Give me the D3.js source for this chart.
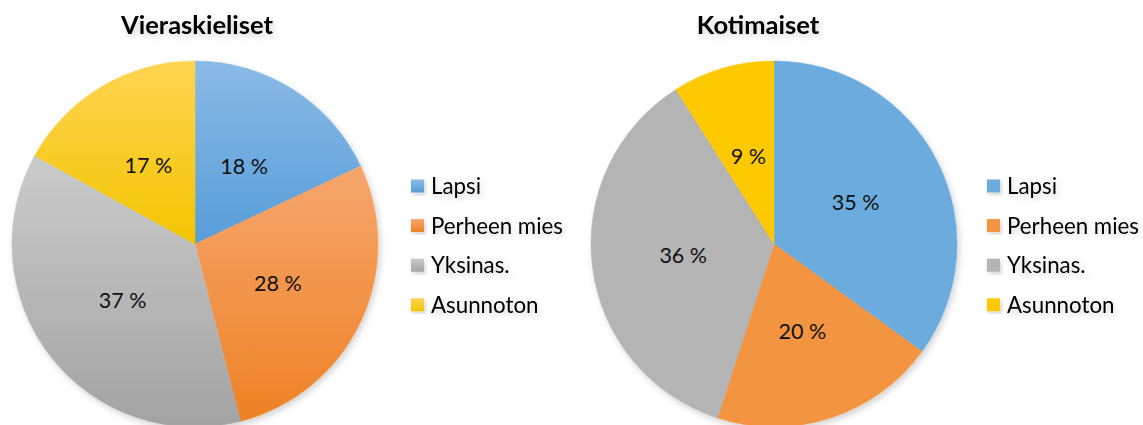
<!DOCTYPE html>
<html>
<head>
<meta charset="utf-8">
<script src="https://cdn.jsdelivr.net/npm/d3@7"></script>
<style>
  html, body { margin: 0; padding: 0; background: #fff; }
  svg { display: block; font-family: Lato, 'Open Sans', sans-serif; }
</style>
</head>
<body>
<div class="viz"></div>
<script>
// categories shared by both pies
const categories = ['Lapsi', 'Perheen mies', 'Yksinas.', 'Asunnoton'];
// percentages
const vieraskieliset = [18, 28, 37, 17];
const kotimaiset = [35, 20, 36, 9];

// flat colours (right pie) and gradient stops (left pie)
const flatColors = ['#6cabdd', '#f29441', '#b4b4b4', '#ffc905'];
const gradTop = ['#8bbae6', '#f6a66d', '#cbcbcb', '#ffd452'];
const gradBottom = ['#579dd8', '#ee8225', '#a3a3a3', '#f2c500'];

const width = 1143;
const height = 425;
const radius = 183;

const svg = d3.select('.viz')
  .append('svg')
  .attr('width', width)
  .attr('height', height);

const defs = svg.append('defs');

// soft shadow used on text and pies
const shadow = defs.append('filter')
  .attr('id', 'soft-shadow')
  .attr('x', '-20%').attr('y', '-20%')
  .attr('width', '140%').attr('height', '140%');
shadow.append('feDropShadow')
  .attr('dx', 2).attr('dy', 3)
  .attr('stdDeviation', 3)
  .attr('flood-color', '#000')
  .attr('flood-opacity', 0.18);

// one vertical gradient per category, spread over each slice's box
categories.forEach((c, i) => {
  const g = defs.append('linearGradient')
    .attr('id', `grad-${i}`)
    .attr('x1', 0).attr('x2', 0)
    .attr('y1', 0).attr('y2', 1);
  g.append('stop').attr('offset', 0).attr('stop-color', gradTop[i]);
  g.append('stop').attr('offset', 1).attr('stop-color', gradBottom[i]);
});

const pie = d3.pie().sort(null);
const arc = d3.arc().innerRadius(0).outerRadius(radius);

// draws one pie with title and legend
function drawPie({ values, title, cx, cy, titleX, legendX, fill }) {
  const group = svg.append('g');

  group.append('text')
    .attr('x', titleX)
    .attr('y', 34)
    .attr('text-anchor', 'middle')
    .attr('font-weight', 'bold')
    .attr('font-size', '25.5px')
    .attr('fill', '#000')
    .attr('filter', 'url(#soft-shadow)')
    .text(title);

  const pieGroup = group.append('g')
    .attr('transform', `translate(${cx} ${cy})`);

  const slices = pie(values);

  pieGroup.append('g')
    .attr('filter', 'url(#soft-shadow)')
    .selectAll('path')
    .data(slices)
    .enter()
    .append('path')
    .attr('d', arc)
    .attr('fill', (d, i) => fill(i))
    .attr('stroke', (d, i) => fill(i))
    .attr('stroke-width', 0.5);

  pieGroup.selectAll('text.label')
    .data(slices)
    .enter()
    .append('text')
    .attr('class', 'label')
    .attr('transform', d => `translate(${arc.centroid(d)})`)
    .attr('text-anchor', 'middle')
    .attr('dy', '0.36em')
    .attr('font-size', '21.5px')
    .attr('fill', '#111')
    .text(d => `${d.data} %`);

  const legend = group.append('g')
    .attr('transform', `translate(${legendX} 0)`);

  const rows = legend.selectAll('g.row')
    .data(categories)
    .enter()
    .append('g')
    .attr('class', 'row')
    .attr('transform', (d, i) => `translate(0 ${186 + i * 39.6})`);

  rows.append('rect')
    .attr('x', 0)
    .attr('y', -6.5)
    .attr('width', 13)
    .attr('height', 13)
    .attr('fill', (d, i) => fill(i))
    .attr('filter', 'url(#soft-shadow)');

  rows.append('text')
    .attr('x', 20)
    .attr('dy', '0.36em')
    .attr('font-size', '22.3px')
    .attr('fill', '#000')
    .attr('filter', 'url(#soft-shadow)')
    .text(d => d);
}

drawPie({
  values: vieraskieliset,
  title: 'Vieraskieliset',
  cx: 195,
  cy: 244,
  titleX: 197,
  legendX: 411,
  fill: i => `url(#grad-${i})`,
});

drawPie({
  values: kotimaiset,
  title: 'Kotimaiset',
  cx: 774,
  cy: 244,
  titleX: 758,
  legendX: 987,
  fill: i => flatColors[i],
});
</script>
</body>
</html>
